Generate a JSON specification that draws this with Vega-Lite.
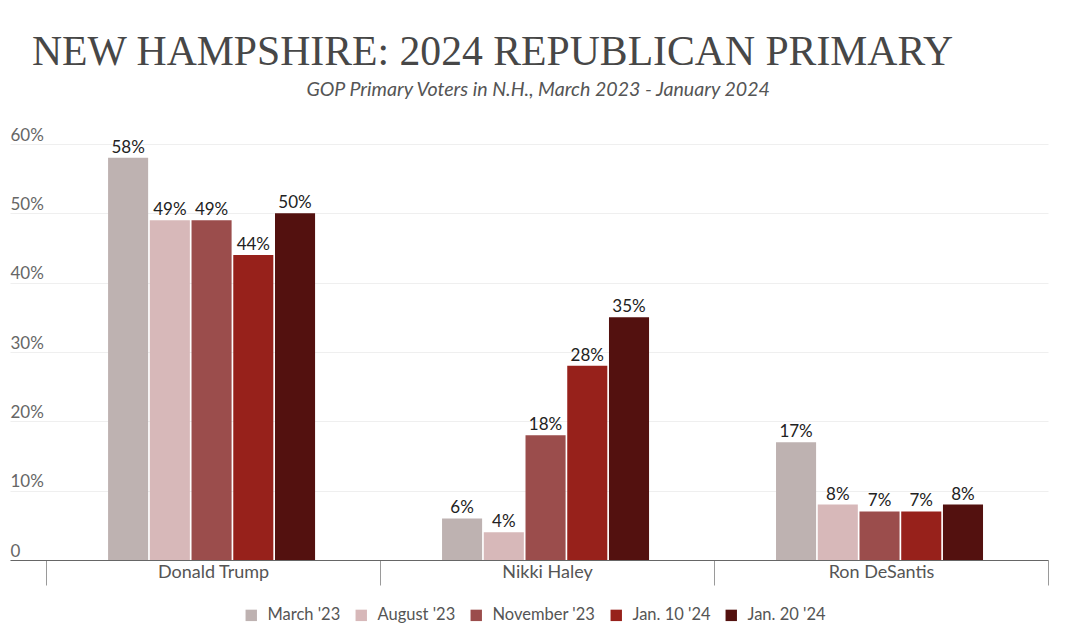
{
  "$schema": "https://vega.github.io/schema/vega-lite/v6.json",
  "autosize": "none",
  "width": 1038,
  "height": 416,
  "padding": {"left": 10, "top": 144, "right": 20, "bottom": 67},
  "background": "white",
  "title": {
    "text": "NEW HAMPSHIRE: 2024 REPUBLICAN PRIMARY\u00a0\u00a0\u00a0\u00a0\u00a0\u00a0\u00a0\u200b",
    "subtitle": "\u200b\u00a0\u00a0\u00a0\u00a0GOP Primary Voters in N.H., March 2023 - January 2024",
    "anchor": "middle",
    "font": "Liberation Serif",
    "fontSize": 41.7,
    "fontWeight": "normal",
    "color": "#474747",
    "subtitleFont": "Lato",
    "subtitleFontSize": 19.6,
    "subtitleFontStyle": "italic",
    "subtitleColor": "#555555",
    "subtitlePadding": 8,
    "offset": 26
  },
  "data": {
    "values": [
      {"candidate": "Donald Trump", "poll": "March '23", "value": 58},
      {"candidate": "Donald Trump", "poll": "August '23", "value": 49},
      {"candidate": "Donald Trump", "poll": "November '23", "value": 49},
      {"candidate": "Donald Trump", "poll": "Jan. 10 '24", "value": 44},
      {"candidate": "Donald Trump", "poll": "Jan. 20 '24", "value": 50},
      {"candidate": "Nikki Haley", "poll": "March '23", "value": 6},
      {"candidate": "Nikki Haley", "poll": "August '23", "value": 4},
      {"candidate": "Nikki Haley", "poll": "November '23", "value": 18},
      {"candidate": "Nikki Haley", "poll": "Jan. 10 '24", "value": 28},
      {"candidate": "Nikki Haley", "poll": "Jan. 20 '24", "value": 35},
      {"candidate": "Ron DeSantis", "poll": "March '23", "value": 17},
      {"candidate": "Ron DeSantis", "poll": "August '23", "value": 8},
      {"candidate": "Ron DeSantis", "poll": "November '23", "value": 7},
      {"candidate": "Ron DeSantis", "poll": "Jan. 10 '24", "value": 7},
      {"candidate": "Ron DeSantis", "poll": "Jan. 20 '24", "value": 8}
    ]
  },
  "encoding": {
    "x": {
      "field": "candidate",
      "type": "nominal",
      "sort": ["Donald Trump", "Nikki Haley", "Ron DeSantis"],
      "scale": {"paddingInner": 0, "paddingOuter": 0.054, "align": 1},
      "axis": {
        "title": null,
        "tickBand": "extent",
        "domainColor": "#666666",
        "domainWidth": 1,
        "ticks": true,
        "tickColor": "#9a9a9a",
        "tickSize": 25,
        "tickWidth": 1,
        "labelPadding": -22,
        "labelAngle": 0,
        "labelFont": "Lato",
        "labelFontSize": 18,
        "labelColor": "#555555"
      }
    },
    "xOffset": {
      "field": "poll",
      "type": "nominal",
      "sort": ["March '23", "August '23", "November '23", "Jan. 10 '24", "Jan. 20 '24"],
      "scale": {"range": [62, 269], "paddingInner": 0.04, "paddingOuter": 0}
    },
    "y": {
      "field": "value",
      "type": "quantitative",
      "scale": {"domain": [0, 60], "nice": false},
      "axis": {
        "title": null,
        "values": [0, 10, 20, 30, 40, 50, 60],
        "labelExpr": "datum.value == 0 ? '0' : datum.value + '%'",
        "domain": false,
        "ticks": false,
        "tickSize": 0,
        "labelPadding": 0,
        "labelAlign": "left",
        "labelBaseline": "alphabetic",
        "labelOffset": -4,
        "labelFont": "Lato",
        "labelFontSize": 17,
        "labelColor": "#666666",
        "grid": true,
        "gridColor": "#efefef",
        "gridWidth": 1
      }
    }
  },
  "layer": [
    {
      "mark": {"type": "bar", "stroke": null},
      "encoding": {
        "color": {
          "field": "poll",
          "type": "nominal",
          "sort": ["March '23", "August '23", "November '23", "Jan. 10 '24", "Jan. 20 '24"],
          "scale": {"range": ["#beb2b1", "#d7b8b9", "#9b4d4c", "#97211b", "#53110f"]},
          "legend": {
            "title": null,
            "orient": "none",
            "legendX": 233,
            "legendY": 463,
            "direction": "horizontal",
            "symbolType": "square",
            "symbolSize": 130,
            "symbolStrokeWidth": 0,
            "labelFont": "Lato",
            "labelFontSize": 16.5,
            "labelColor": "#555555",
            "labelOffset": 8,
            "columnPadding": 12
          }
        }
      }
    },
    {
      "transform": [{"calculate": "datum.value + '%'", "as": "label"}],
      "mark": {"type": "text", "baseline": "bottom", "dy": -1, "font": "Lato", "fontSize": 17, "color": "#222222"},
      "encoding": {
        "text": {"field": "label"}
      }
    }
  ],
  "config": {"view": {"stroke": null}}
}
